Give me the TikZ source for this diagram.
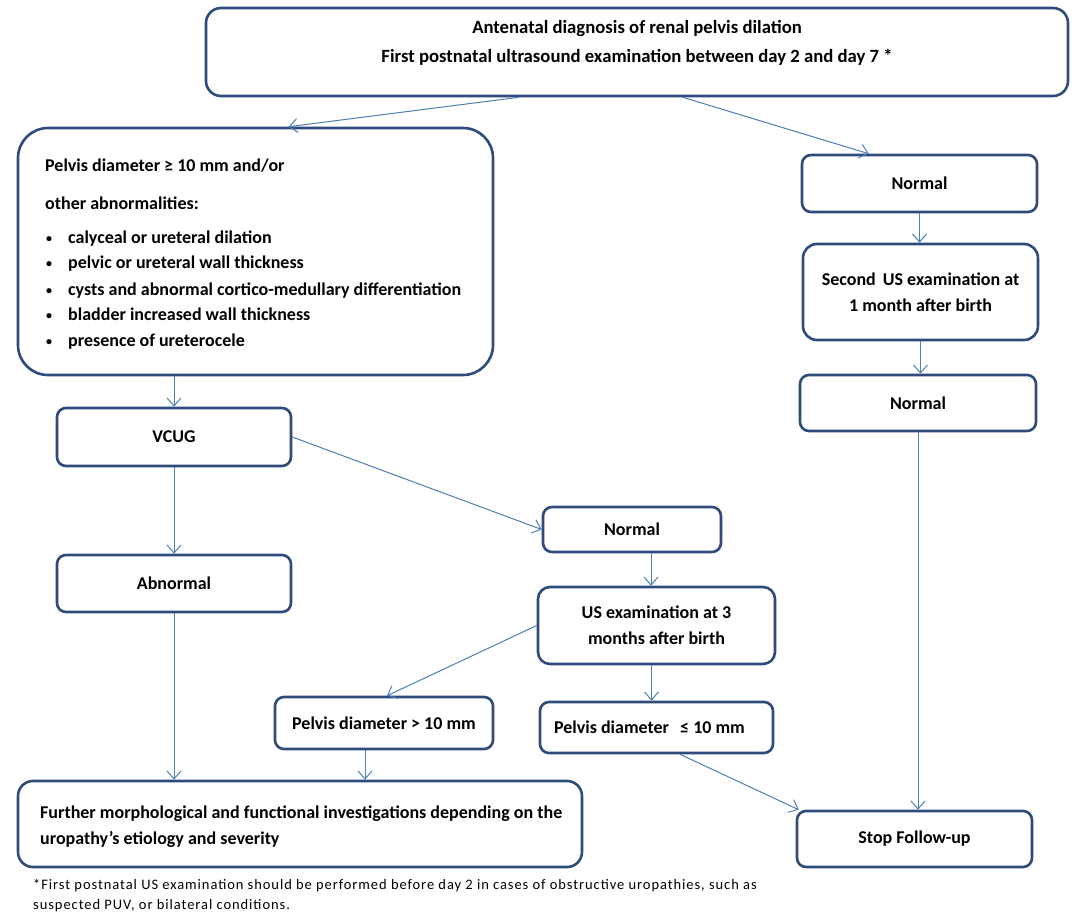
\documentclass[tikz,border=0pt]{standalone}
\usepackage{fontspec}
\setmainfont{Carlito}
\usetikzlibrary{arrows.meta}
\definecolor{bord}{HTML}{2F4B7C}
\definecolor{arr}{HTML}{4F7DB5}
\begin{document}
\begin{tikzpicture}[x=1pt,y=-1pt,
  box/.style={draw=bord, line width=2.6pt, rounded corners=9pt, fill=white, inner sep=0pt,
    font=\bfseries\fontsize{18}{26}\selectfont, align=center},
  txt/.style={inner sep=0pt, anchor=base west, font=\bfseries\fontsize{18}{20}\selectfont},
  bul/.style={inner sep=0pt, anchor=base west, font=\bfseries\fontsize{12}{14}\selectfont},
  ctxt/.style={inner sep=0pt, anchor=base, font=\bfseries\fontsize{18.7}{20}\selectfont},
  note/.style={inner sep=0pt, anchor=base west, font=\fontsize{14.5}{16}\selectfont\addfontfeatures{LetterSpace=6.5}},
  conn/.style={draw=arr, line width=1pt, -{Straight Barb[length=8pt,width=14pt,line width=1pt]}}]
\useasboundingbox (0,0) rectangle (1084,918);
% boxes
\node[box, rounded corners=15pt, minimum width=862pt, minimum height=88pt] (top) at (637,52) {};
\node[ctxt] (t1) at (637,33) {Antenatal diagnosis of renal pelvis dilation};
\node[ctxt] (t2) at (637,62) {First postnatal ultrasound examination between day 2 and day 7 *};

\node[box, rounded corners=30pt, minimum width=475pt, minimum height=247pt] (big) at (255.5,251.5) {};
\node[txt] (b1) at (45,171) {Pelvis diameter ≥ 10 mm and/or};
\node[txt] (b2) at (45,209) {other abnormalities:};
\node[bul] (b3) at (46,242) {•};
\node[txt] (b3t) at (68,243) {calyceal or ureteral dilation};
\node[bul] (b4) at (46,267) {•};
\node[txt] (b4t) at (68,268) {pelvic or ureteral wall thickness};
\node[bul] (b5) at (46,294) {•};
\node[txt] (b5t) at (68,295) {cysts and abnormal cortico-medullary differentiation};
\node[bul] (b6) at (46,319) {•};
\node[txt] (b6t) at (68,320) {bladder increased wall thickness};
\node[bul] (b7) at (46,345) {•};
\node[txt] (b7t) at (68,346) {presence of ureterocele};

\node[box, minimum width=235pt, minimum height=57pt] (n1) at (919.5,183.5) {Normal};
\node[box, rounded corners=14pt, minimum width=235pt, minimum height=96pt] (s2) at (920.5,292) {Second\, US examination at\\1 month after birth};
\node[box, minimum width=236pt, minimum height=56pt] (n2) at (918,403) {Normal};

\node[box, minimum width=234pt, minimum height=58pt] (vcug) at (174,437) {VCUG};
\node[box, minimum width=234pt, minimum height=57pt] (abn) at (174,583.5) {Abnormal};

\node[box, minimum width=178pt, minimum height=45pt] (nm) at (632,529.5) {Normal};
\node[box, rounded corners=12pt, minimum width=237pt, minimum height=77pt] (us3) at (656.5,625.5) {US examination at 3\\months after birth};
\node[box, minimum width=218pt, minimum height=52pt] (pgt) at (384,723) {Pelvis diameter > 10 mm};
\node[box, minimum width=233pt, minimum height=51pt] (ple) at (656.5,727.5) {Pelvis diameter \, ≤ 10 mm\hspace*{14pt}};

\node[box, rounded corners=15pt, minimum width=564pt, minimum height=86pt] (fur) at (300,824) {};
\node[txt] (f1) at (40,818) {Further morphological and functional investigations depending on the};
\node[txt] (f2) at (40,844) {uropathy’s etiology and severity};
\node[box, minimum width=235pt, minimum height=56pt] (stop) at (914.5,839) {Stop Follow-up};

\node[note] (fn1) at (33,889) {*First postnatal US examination should be performed before day 2 in cases of obstructive uropathies, such as};
\node[note] (fn2) at (33,909) {suspected PUV, or bilateral conditions.};

% connectors
\draw[conn] ([xshift=314pt]top.south west) -- ([xshift=272pt]big.north west);
\draw[conn] ([xshift=478pt]top.south west) -- ([xshift=68pt]n1.north west);
\draw[conn] (n1.south) coordinate (a1) -- (a1 |- s2.north);
\draw[conn] (s2.south) coordinate (a2) -- (a2 |- n2.north);
\draw[conn] (n2.south) coordinate (a3) -- (a3 |- stop.north);
\draw[conn] (vcug.north |- big.south) -- (vcug.north);
\draw[conn] (vcug.south) -- (abn.north);
\draw[conn] (vcug.east) -- (nm.west);
\draw[conn] ([xshift=19pt]nm.south) coordinate (a4) -- (a4 |- us3.north);
\draw[conn] ([xshift=-5pt]us3.south) coordinate (a5) -- (a5 |- ple.north);
\draw[conn] (us3.west) -- ([xshift=3pt]pgt.north);
\draw[conn] ([xshift=-19pt]pgt.south) coordinate (a6) -- (a6 |- fur.north);
\draw[conn] (abn.south) coordinate (a7) -- (a7 |- fur.north);
\draw[conn] ([xshift=23.5pt]ple.south) -- ([xshift=3pt]stop.north west);
\end{tikzpicture}
\end{document}
